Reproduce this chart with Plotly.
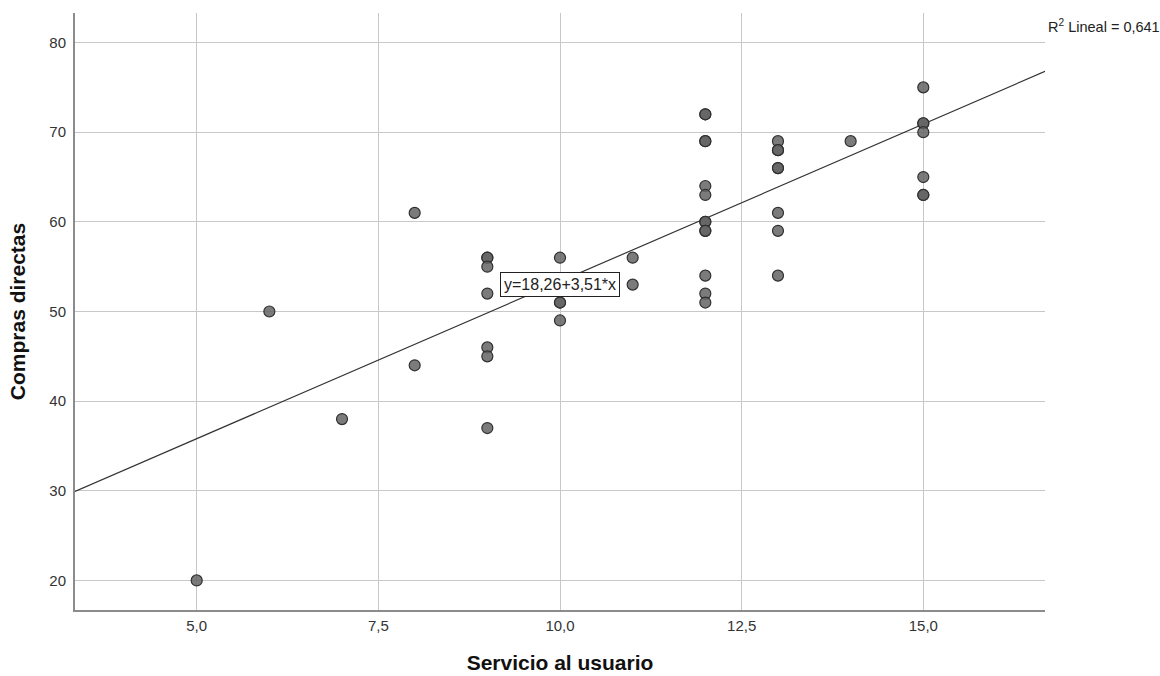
import plotly.graph_objects as go

# Data (x = Servicio al usuario, y = Compras directas)
servicio = [5, 6, 7, 8, 8,
            9, 9, 9, 9, 9, 9, 9,
            10, 10, 10, 10,
            11, 11,
            12, 12, 12, 12, 12, 12, 12, 12, 12, 12, 12, 12, 12,
            13, 13, 13, 13, 13, 13, 13, 13,
            14,
            15, 15, 15, 15, 15, 15, 15]
compras = [20, 50, 38, 61, 44,
           56, 56, 55, 52, 46, 45, 37,
           56, 51, 51, 49,
           56, 53,
           72, 72, 69, 69, 64, 63, 60, 60, 59, 59, 54, 52, 51,
           69, 68, 68, 66, 66, 61, 59, 54,
           69,
           75, 71, 71, 70, 65, 63, 63]

intercept = 18.26
slope = 3.51
r2_text = "R<sup>2</sup> Lineal = 0,641"
eq_text = "y=18,26+3,51*x"

x_ticks = [5, 7.5, 10, 12.5, 15]
x_ticklabels = ["5,0", "7,5", "10,0", "12,5", "15,0"]
y_ticks = [20, 30, 40, 50, 60, 70, 80]

x_range = [3.325, 16.675]
y_range = [16.7, 83.3]

FONT = "Liberation Sans, Arial"
plot_l, plot_r, plot_t, plot_b = 75, 1045, 13, 610

fig = go.Figure()

fig.add_trace(go.Scatter(
    x=x_range,
    y=[intercept + slope * v for v in x_range],
    mode="lines",
    line=dict(color="#333333", width=1.2),
    hoverinfo="skip",
    showlegend=False,
))

fig.add_trace(go.Scatter(
    x=servicio, y=compras, mode="markers",
    marker=dict(size=11, color="rgba(100,100,100,0.85)",
                line=dict(color="#303030", width=1.2)),
    showlegend=False,
))

fig.add_annotation(
    x=10, y=53, xref="x", yref="y", text=eq_text, showarrow=False,
    font=dict(family=FONT, size=16, color="#222222"),
    bgcolor="white", bordercolor="#222222", borderwidth=1, borderpad=3,
)

fig.add_annotation(
    x=(1046 - plot_l) / (plot_r - plot_l),
    y=1 - (26 - plot_t) / (plot_b - plot_t),
    xref="paper", yref="paper", text=r2_text, showarrow=False,
    font=dict(family=FONT, size=14.5, color="#222222"),
    xanchor="left", yanchor="middle",
)

fig.update_layout(
    width=1160, height=676,
    margin=dict(l=plot_l, r=1160 - plot_r, t=plot_t, b=676 - plot_b),
    paper_bgcolor="white", plot_bgcolor="white",
    font=dict(family=FONT, size=15, color="#333333"),
    xaxis=dict(
        range=x_range, tickvals=x_ticks, ticktext=x_ticklabels,
        showgrid=True, gridcolor="#c8c8c8", gridwidth=1.3,
        showline=True, linecolor="#8c8c8c", linewidth=2,
        zeroline=False, ticks="", ticklabelstandoff=1,
        tickfont=dict(family=FONT, size=15, color="#333333"),
        automargin=False,
        title=dict(text="<b>Servicio al usuario</b>",
                   font=dict(family=FONT, size=21, color="#111111"), standoff=22),
    ),
    yaxis=dict(
        range=y_range, tickvals=y_ticks,
        showgrid=True, gridcolor="#c8c8c8", gridwidth=1.3,
        showline=True, linecolor="#8c8c8c", linewidth=2,
        zeroline=False, ticks="", ticklabelstandoff=4,
        tickfont=dict(family=FONT, size=15, color="#333333"),
        automargin=False,
        title=dict(text="<b>Compras directas</b>",
                   font=dict(family=FONT, size=21, color="#111111"), standoff=18),
    ),
)

fig.write_html("out.html")
